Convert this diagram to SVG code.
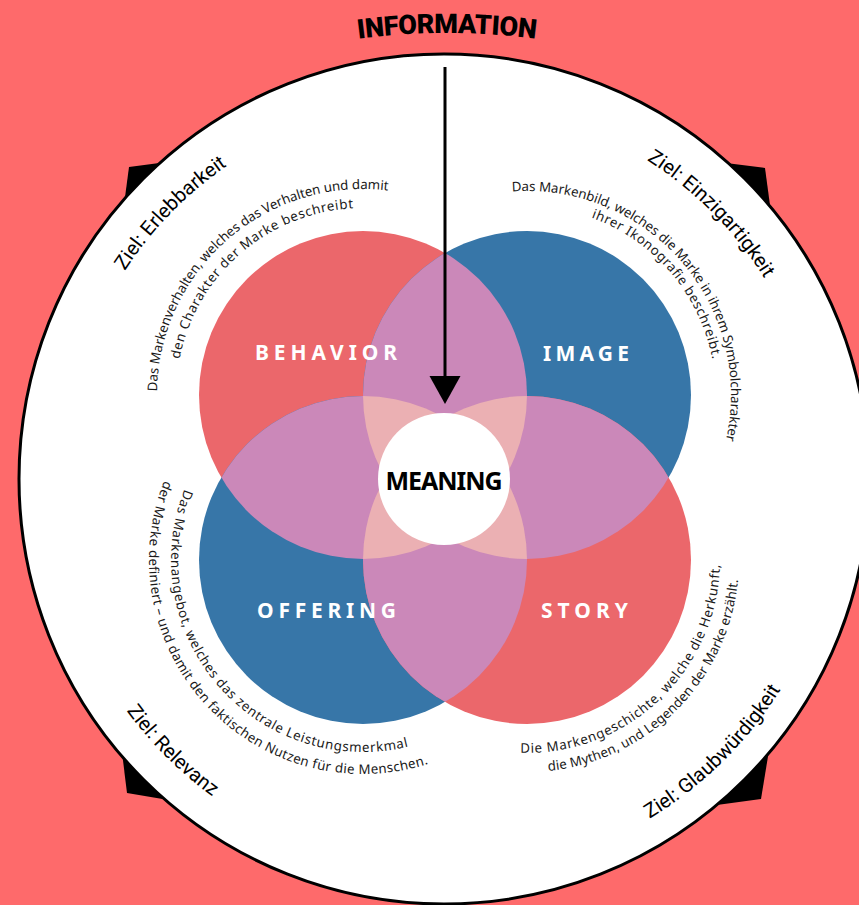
<svg xmlns="http://www.w3.org/2000/svg" width="859" height="905" viewBox="0 0 859 905">
<style>
.ziel{font-family:Roboto,"Liberation Sans",Arial,sans-serif;font-size:20px;font-weight:normal;fill:#000}
.desc{font-family:"Noto Sans",Roboto,sans-serif;font-size:13.3px;fill:#1a1a1a}
.lbl{font-family:"Noto Sans",Roboto,sans-serif;font-size:21px;font-weight:bold;fill:#fff}
.red{fill:#eb676b}
.blue{fill:#3776a8}
.pair{fill:#cb88b9}
.tri{fill:#ebb0b3}
</style>
<defs>
<clipPath id="cB"><circle cx="363" cy="395" r="164"/></clipPath>
<clipPath id="cI"><circle cx="527" cy="395" r="164"/></clipPath>
<clipPath id="cO"><circle cx="363" cy="560" r="164"/></clipPath>
<clipPath id="cS"><circle cx="527" cy="560" r="164"/></clipPath>
<path id="pInfo" d="M 347 40.2 A 700 700 0 0 1 547 40.2"/>
<path id="pZ1" d="M 64.9 517.5 A 381 381 0 0 1 471.9 99"/>
<path id="pZ2" d="M 412.4 102.3 A 378 378 0 0 1 820.5 513.3"/>
<path id="pZ3" d="M 406.6 874.3 A 397 397 0 0 0 839.7 447.2"/>
<path id="pZ4" d="M 52.5 444.7 A 393 393 0 0 0 478.3 870.5"/>
<path id="pB1" d="M 186.4 501.1 A 206 206 0 0 1 492.6 234.9"/>
<path id="pB2" d="M 202.7 491.3 A 187 187 0 0 1 480.7 249.7"/>
<path id="pI1" d="M 422.9 219.6 A 204 204 0 0 1 684.9 524.2"/>
<path id="pI2" d="M 431.1 232.2 A 189 189 0 0 1 672.8 515.2"/>
<path id="pO1" d="M 213.8 439.2 A 192 192 0 0 0 461.9 724.6"/>
<path id="pO2" d="M 192.1 431.2 A 214 214 0 0 0 479.5 739.5"/>
<path id="pS1" d="M 411.7 714.7 A 193 193 0 0 0 688.3 454"/>
<path id="pS2" d="M 406 734.1 A 212 212 0 0 0 700.2 437.8"/>
</defs>
<rect x="0" y="0" width="859" height="905" fill="#fe6a6b"/>
<g id="corners" fill="#000">
<polygon points="129,167 220,155 230,240 118,250"/>
<polygon points="765,168 670,156 660,250 776,250"/>
<polygon points="761,799 774,720 680,720 680,810"/>
<polygon points="127,793 118,720 210,720 210,807"/>
</g>
<circle id="ring" cx="444" cy="479" r="425" fill="#fff" stroke="#000" stroke-width="3"/>
<g id="information">
<text style="font-family:Roboto,'Noto Sans',sans-serif;font-size:27px;font-weight:900;fill:#000"><textPath href="#pInfo" startOffset="50%" text-anchor="middle" textLength="178">INFORMATION</textPath></text>
</g>
<g id="goals">
<text class="ziel"><textPath href="#pZ1" startOffset="50%" text-anchor="middle">Ziel: Erlebbarkeit</textPath></text>
<text class="ziel"><textPath href="#pZ2" startOffset="50%" text-anchor="middle">Ziel: Einzigartigkeit</textPath></text>
<text class="ziel"><textPath href="#pZ3" startOffset="50%" text-anchor="middle">Ziel: Glaubwürdigkeit</textPath></text>
<text class="ziel"><textPath href="#pZ4" startOffset="50%" text-anchor="middle">Ziel: Relevanz</textPath></text>
</g>
<g id="descriptions">
<text class="desc"><textPath href="#pB1" startOffset="50%" text-anchor="middle" textLength="345">Das Markenverhalten, welches das Verhalten und damit</textPath></text>
<text class="desc"><textPath href="#pB2" startOffset="50%" text-anchor="middle" textLength="248">den Charakter der Marke beschreibt</textPath></text>
<text class="desc"><textPath href="#pI1" startOffset="50%" text-anchor="middle" textLength="381">Das Markenbild, welches die Marke in ihrem Symbolcharakter</textPath></text>
<text class="desc"><textPath href="#pI2" startOffset="50%" text-anchor="middle" textLength="195">ihrer Ikonografie beschreibt.</textPath></text>
<text class="desc"><textPath href="#pO1" startOffset="50%" text-anchor="middle" textLength="420">Das Markenangebot, welches das zentrale Leistungsmerkmal</textPath></text>
<text class="desc"><textPath href="#pO2" startOffset="50%" text-anchor="middle" textLength="484">der Marke definiert – und damit den faktischen Nutzen für die Menschen.</textPath></text>
<text class="desc"><textPath href="#pS1" startOffset="50%" text-anchor="middle" textLength="305">Die Markengeschichte, welche die Herkunft,</textPath></text>
<text class="desc"><textPath href="#pS2" startOffset="50%" text-anchor="middle" textLength="292">die Mythen, und Legenden der Marke erzählt.</textPath></text>
</g>
<g id="circles">
<circle id="behavior-circle" class="red" cx="363" cy="395" r="164"/>
<circle id="image-circle" class="blue" cx="527" cy="395" r="164"/>
<circle id="offering-circle" class="blue" cx="363" cy="560" r="164"/>
<circle id="story-circle" class="red" cx="527" cy="560" r="164"/>
<g class="pair">
<g clip-path="url(#cB)"><circle cx="527" cy="395" r="164"/><circle cx="363" cy="560" r="164"/><circle cx="527" cy="560" r="164"/></g>
<g clip-path="url(#cS)"><circle cx="527" cy="395" r="164"/><circle cx="363" cy="560" r="164"/></g>
<g clip-path="url(#cI)"><circle cx="363" cy="560" r="164"/></g>
</g>
<g class="tri">
<g clip-path="url(#cB)"><g clip-path="url(#cI)"><circle cx="363" cy="560" r="164"/><circle cx="527" cy="560" r="164"/></g></g>
<g clip-path="url(#cO)"><g clip-path="url(#cS)"><circle cx="363" cy="395" r="164"/><circle cx="527" cy="395" r="164"/></g></g>
</g>
</g>
<g id="behavior"><text class="lbl" x="326" y="360" text-anchor="middle" textLength="142">BEHAVIOR</text></g>
<g id="image"><text class="lbl" x="586" y="361" text-anchor="middle" textLength="86">IMAGE</text></g>
<g id="offering"><text class="lbl" x="326.5" y="618" text-anchor="middle" textLength="139">OFFERING</text></g>
<g id="story"><text class="lbl" x="584.5" y="618" text-anchor="middle" textLength="87">STORY</text></g>
<g id="connectors">
<line x1="445" y1="67" x2="445" y2="380" stroke="#000" stroke-width="3"/>
<polygon points="429.5,376 460.5,376 445,404" fill="#000"/>
</g>
<g id="meaning">
<circle cx="444" cy="479" r="66" fill="#fff"/>
<text x="444" y="490" text-anchor="middle" textLength="117" style="font-family:'Noto Sans',Roboto,sans-serif;font-size:25px;font-weight:bold;fill:#000">MEANING</text>
</g>
</svg>
